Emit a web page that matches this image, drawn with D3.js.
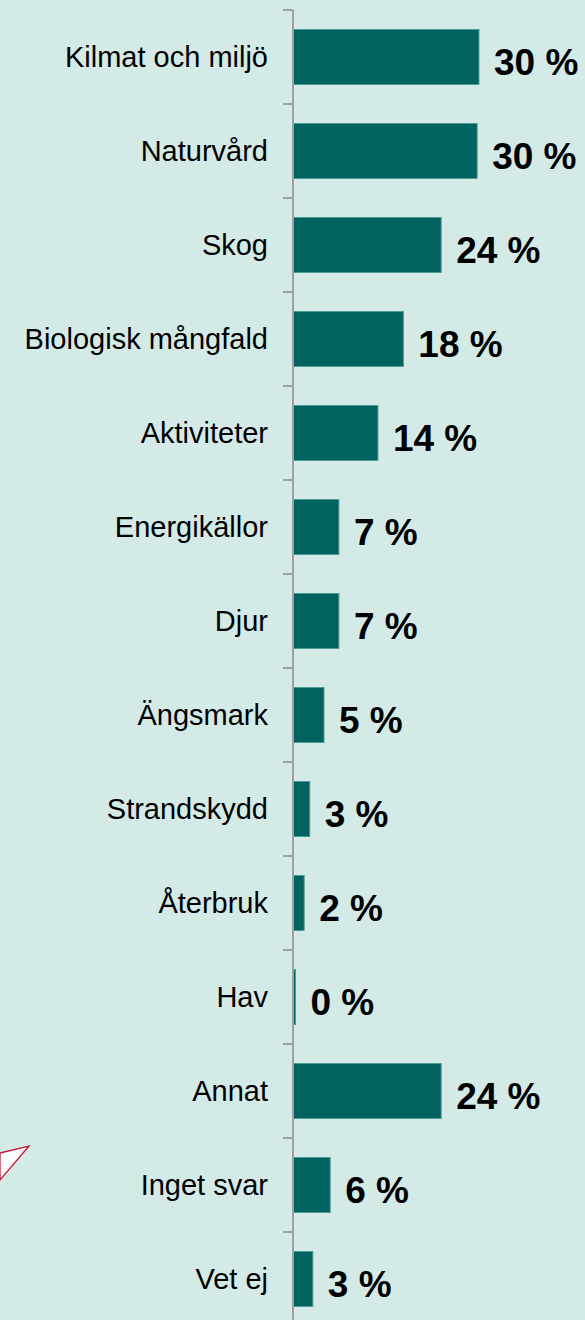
<!DOCTYPE html>
<html>
<head>
<meta charset="utf-8">
<script src="https://cdn.jsdelivr.net/npm/d3@7"></script>
<style>
  body { margin: 0; background: #d3eae7; }
  svg { display: block; font-family: "Liberation Sans", Arial, sans-serif; }
</style>
</head>
<body>
<svg id="chart" width="585" height="1320"></svg>
<script>
// data
const categories = ["Kilmat och miljö", "Naturvård", "Skog", "Biologisk mångfald", "Aktiviteter",
  "Energikällor", "Djur", "Ängsmark", "Strandskydd", "Återbruk", "Hav", "Annat", "Inget svar", "Vet ej"];
const values = [30, 29.7, 23.9, 17.8, 13.7, 7.4, 7.4, 5.0, 2.7, 1.8, 0.4, 23.9, 6.0, 3.2];
const valueLabels = ["30 %", "30 %", "24 %", "18 %", "14 %", "7 %", "7 %", "5 %", "3 %", "2 %", "0 %", "24 %", "6 %", "3 %"];

const rows = categories.map((c, i) => ({ c, v: values[i], lab: valueLabels[i] }));

const W = 585, H = 1320;
const axisX = 293;

const svg = d3.select("#chart");
svg.append("rect").attr("width", W).attr("height", H).attr("fill", "#d3eae7");

/* ---------- Scales ---------- */
const y = d3.scaleBand().domain(categories).range([10, 10 + 94 * categories.length])
  .paddingInner(0.415).paddingOuter(0.2075);
const x = d3.scaleLinear().domain([0, 30]).range([axisX, axisX + 186]);

const half = (y.step() - y.bandwidth()) / 2;

/* ---------- Decorative callout pointer ---------- */
svg.append("path")
  .attr("d", "M0,1153 L29,1146 L0,1180 Z")
  .attr("fill", "#ffffff").attr("stroke", "#c8193c").attr("stroke-width", 1.3);

/* ---------- Bars ---------- */
svg.selectAll("rect.bar").data(rows).join("rect")
  .attr("class", "bar")
  .attr("x", x(0))
  .attr("y", d => y(d.c))
  .attr("width", d => Math.max(0, x(d.v) - x(0)))
  .attr("height", y.bandwidth())
  .attr("fill", "#006360")
  .attr("stroke", "#4f9a95").attr("stroke-width", 1);

/* ---------- Axis ---------- */
const edges = categories.map(c => y(c) - half);
edges.push(y(categories[categories.length - 1]) + y.bandwidth() + half);

svg.append("line")
  .attr("x1", axisX).attr("x2", axisX)
  .attr("y1", edges[0]).attr("y2", H)
  .attr("stroke", "#a0a0a0").attr("stroke-width", 2);

svg.selectAll("line.tick").data(edges).join("line")
  .attr("class", "tick")
  .attr("x1", axisX - 10).attr("x2", axisX)
  .attr("y1", d => d).attr("y2", d => d)
  .attr("stroke", "#a0a0a0").attr("stroke-width", 2);

/* ---------- Labels ---------- */
svg.selectAll("text.cat").data(rows).join("text")
  .attr("class", "cat")
  .attr("x", axisX - 25)
  .attr("y", d => y(d.c) + y.bandwidth() / 2 + 10)
  .attr("text-anchor", "end")
  .attr("font-size", 29)
  .attr("fill", "#000")
  .text(d => d.c);

svg.selectAll("text.val").data(rows).join("text")
  .attr("class", "val")
  .attr("x", d => x(d.v) + 15)
  .attr("y", d => y(d.c) + y.bandwidth() / 2 + 18)
  .attr("font-size", 37)
  .attr("font-weight", "bold")
  .attr("fill", "#000")
  .text(d => d.lab);
</script>
</body>
</html>
